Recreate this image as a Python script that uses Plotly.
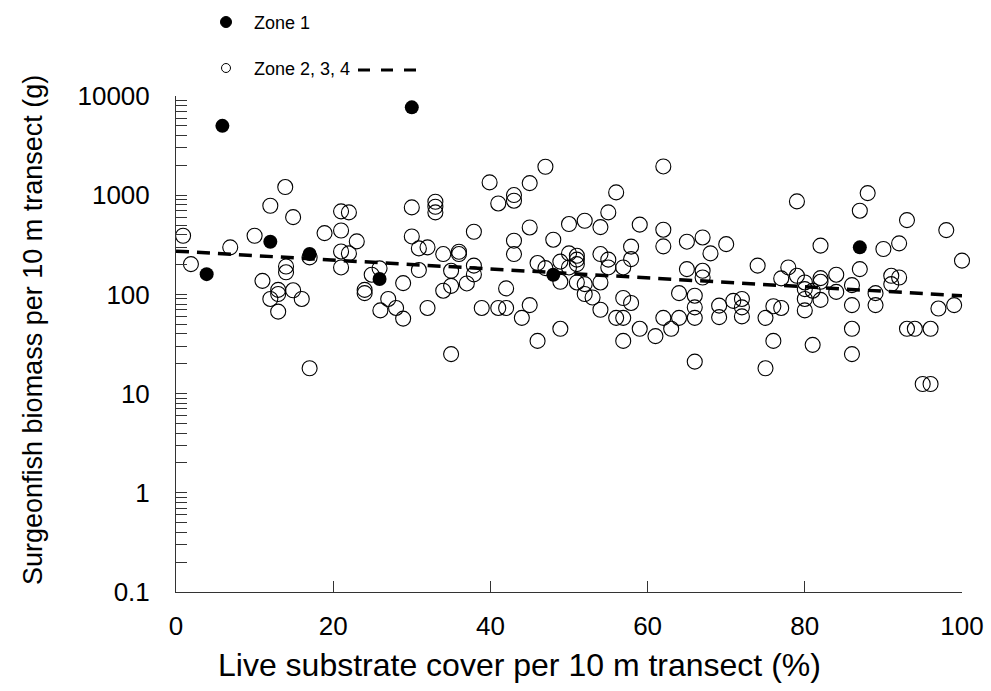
import plotly.graph_objects as go

# Zone 1 (filled markers)
zone1_x = [3.9, 5.9, 12.0, 17.0, 25.9, 30.0, 48.0, 87.0]
zone1_y = [160, 5000, 340, 255, 143, 7680, 158, 298]

# Zones 2, 3, 4 (open markers)
zone234_x = [
    0.9, 1.9, 6.9, 10.0, 12.0, 13.9, 14.9, 11.0, 14.0, 14.0, 13.0, 13.0, 12.0, 13.0, 14.9, 16.0, 17.0, 18.9, 17.0,
    21.0, 22.0, 21.0, 23.0, 21.0, 22.0, 21.0, 24.9, 25.9, 24.0, 24.0, 27.0, 26.0, 28.0, 28.9, 28.9, 30.0, 30.0,
    30.9, 32.0, 30.9, 32.0, 33.0, 33.0, 33.0, 34.0, 36.0, 36.0, 35.0, 35.0, 34.0, 37.0, 37.9, 37.9, 37.9, 38.9,
    35.0, 39.9,
    45.0, 47.0, 41.0, 43.0, 43.0, 45.0, 43.0, 43.0, 48.0, 46.0, 47.0, 48.9, 50.0, 52.0, 54.0, 55.0, 56.0, 59.0,
    50.0, 48.9, 50.0, 51.0, 51.0, 51.0, 51.0, 52.0, 52.0, 53.0, 54.0, 55.0, 55.0, 54.0, 54.0, 56.9, 57.9, 57.9,
    56.9, 57.9, 56.0, 56.9, 59.0, 56.9, 42.0, 41.0, 42.0, 45.0, 44.0, 48.9, 46.0,
    62.0, 79.0, 62.0, 62.0, 65.0, 67.0, 70.0, 68.0, 65.0, 67.0, 67.0, 74.0, 77.9, 77.0, 79.0, 80.0, 80.0, 80.0,
    80.0, 64.0, 66.0, 66.0, 66.0, 69.1, 69.1, 70.9, 72.0, 72.0, 72.0, 75.0, 76.0, 77.0, 62.0, 64.0, 63.0, 61.0,
    76.0, 66.0, 75.0, 81.0, 81.0,
    88.0, 87.0, 93.0, 98.0, 100.0, 82.0, 90.0, 92.0, 87.0, 82.0, 82.0, 84.0, 84.0, 82.0, 86.0, 89.0, 89.0, 86.0,
    86.0, 86.0, 91.0, 92.0, 91.0, 93.0, 94.0, 96.0, 97.0, 99.0, 95.0, 96.0,
]
zone234_y = [
    390, 202, 298, 390, 783, 1208, 601, 137, 191, 167, 111, 101, 90, 67, 110, 90, 236, 415, 18,
    687, 671, 441, 342, 271, 259, 187, 158, 183, 111, 103, 90, 69, 73, 57, 130, 753, 384,
    291, 298, 176, 73, 859, 765, 671, 255, 269, 255, 173, 122, 109, 129, 428, 195, 159, 73,
    25, 1346,
    1325, 1935, 826, 1003, 880, 473, 348, 255, 356, 207, 184, 134, 512, 553, 477, 671, 1067, 505,
    259, 214, 187, 245, 224, 202, 132, 127, 101, 93, 255, 224, 187, 132, 70, 187, 303, 227,
    92, 82, 58, 58, 45, 34, 115, 73, 73, 78, 58, 45, 34,
    1950, 866, 449, 305, 340, 375, 321, 259, 180, 173, 148, 195, 187, 145, 154, 132, 113, 90,
    69, 103, 97, 74, 58, 77, 59, 86, 90, 74, 60, 58, 76, 73, 58, 58, 45, 38,
    34, 21, 18, 31, 109,
    1050, 698, 561, 445, 219, 310, 287, 327, 180, 146, 134, 158, 106, 88, 124, 103, 78, 78,
    45, 25, 154, 148, 127, 45, 45, 45, 72, 78, 12.5, 12.5,
]

# Trend line (zones 2, 3, 4) endpoints
trend_x = [0, 100]
trend_y = [273, 97]

y_tickvals = [0.1, 1, 10, 100, 1000, 10000]
y_ticktext = ["0.1", "1", "10", "100", "1000", "10000"]
x_tickvals = [0, 20, 40, 60, 80, 100]

X_TITLE = "Live substrate cover per 10 m transect (%)"
Y_TITLE = "Surgeonfish biomass per 10 m transect (g)"

FONT = "Liberation Sans, Arial, sans-serif"

fig = go.Figure()
fig.add_trace(go.Scatter(
    x=zone234_x, y=zone234_y, mode="markers", name="Zone 2, 3, 4",
    marker=dict(symbol="circle-open", size=15, color="black", line=dict(width=1.1)),
    showlegend=False, cliponaxis=False,
))
fig.add_trace(go.Scatter(
    x=zone1_x, y=zone1_y, mode="markers", name="Zone 1",
    marker=dict(symbol="circle", size=14, color="black"),
    showlegend=False, cliponaxis=False,
))
fig.add_trace(go.Scatter(
    x=trend_x, y=trend_y, mode="lines", showlegend=False,
    line=dict(color="black", width=3.5, dash="13px,8px"),
))

L, R, T, B = 176, 29, 96, 99
W, H = 991, 691
pw, ph = W - L - R, H - T - B

def px(xp):
    return (xp - L) / pw

def py(yp):
    return (H - B - yp) / ph

fig.update_layout(
    width=W, height=H,
    margin=dict(l=L, r=R, t=T, b=B, autoexpand=False),
    paper_bgcolor="white", plot_bgcolor="white",
    font=dict(family=FONT, color="black"),
    xaxis=dict(
        range=[0, 100], tickvals=x_tickvals, ticks="inside", ticklen=11, tickwidth=1,
        tickcolor="#333", showline=True, linecolor="#333", linewidth=1, showgrid=False,
        zeroline=False, tickfont=dict(size=26), ticklabelstandoff=11, automargin=False,
    ),
    yaxis=dict(
        type="log", range=[-1, 4], tickvals=y_tickvals, ticktext=y_ticktext,
        ticks="inside", ticklen=11, tickwidth=1, tickcolor="#333",
        showline=True, linecolor="#333", linewidth=1, showgrid=False, zeroline=False,
        tickfont=dict(size=26), ticklabelstandoff=20, automargin=False,
        minor=dict(ticks="inside", ticklen=11, tickcolor="#333", tickwidth=1, dtick="D1", showgrid=False),
    ),
)

# Axis titles placed as in the reference
fig.add_annotation(xref="paper", yref="paper", x=px(519), y=py(665), xanchor="center", yanchor="middle",
                   text=X_TITLE, showarrow=False, font=dict(size=32))
fig.add_annotation(xref="paper", yref="paper", x=px(33), y=py(330), xanchor="center", yanchor="middle",
                   text=Y_TITLE, showarrow=False, textangle=-90, font=dict(size=27))

# Legend drawn manually
fig.add_shape(type="circle", xref="paper", yref="paper", xsizemode="pixel", ysizemode="pixel",
              xanchor=px(226), yanchor=py(22), x0=-5.5, x1=5.5, y0=-5.5, y1=5.5,
              fillcolor="black", line=dict(color="black", width=1))
fig.add_shape(type="circle", xref="paper", yref="paper", xsizemode="pixel", ysizemode="pixel",
              xanchor=px(226), yanchor=py(68), x0=-4.5, x1=4.5, y0=-4.5, y1=4.5,
              fillcolor="white", line=dict(color="black", width=1))
fig.add_shape(type="line", xref="paper", yref="paper", x0=px(358), x1=px(418), y0=py(70), y1=py(70),
              line=dict(color="black", width=3, dash="12px,11px"))
fig.add_annotation(xref="paper", yref="paper", x=px(252), y=py(23), xanchor="left", yanchor="middle",
                   text="Zone 1", showarrow=False, font=dict(size=18))
fig.add_annotation(xref="paper", yref="paper", x=px(252), y=py(69), xanchor="left", yanchor="middle",
                   text="Zone 2, 3, 4", showarrow=False, font=dict(size=18))

fig.write_html("out.html")
